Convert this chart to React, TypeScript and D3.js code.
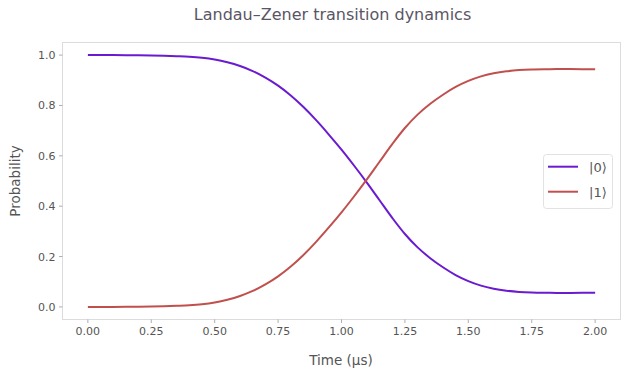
import React from "react";
import * as d3 from "d3";

const times = [
  0, 0.05, 0.1, 0.15, 0.2, 0.25, 0.3, 0.35, 0.4, 0.45, 0.5, 0.55, 0.6, 0.65, 0.7,
  0.75, 0.8, 0.85, 0.9, 0.95, 1.0, 1.05, 1.1, 1.15, 1.2, 1.25, 1.3, 1.35, 1.4,
  1.45, 1.5, 1.55, 1.6, 1.65, 1.7, 1.75, 1.8, 1.85, 1.9, 1.95, 2.0,
];
const p1 = [
  0, 0, 0, 0.0005, 0.001, 0.002, 0.003, 0.0045, 0.0065, 0.0105, 0.0175, 0.0285,
  0.0435, 0.0635, 0.0895, 0.1215, 0.1605, 0.2065, 0.2585, 0.3155, 0.3755,
  0.4395, 0.5065, 0.5765, 0.6465, 0.7105, 0.7635, 0.8065, 0.8425, 0.8735,
  0.8975, 0.9155, 0.9275, 0.9355, 0.9405, 0.943, 0.944, 0.9443, 0.9443, 0.944,
  0.9435,
];
const p0 = [
  1, 1, 1, 0.9995, 0.999, 0.998, 0.997, 0.9955, 0.9935, 0.9895, 0.9825, 0.9715,
  0.9565, 0.9365, 0.9105, 0.8785, 0.8395, 0.7935, 0.7415, 0.6845, 0.6245,
  0.5605, 0.4935, 0.4235, 0.3535, 0.2895, 0.2365, 0.1935, 0.1575, 0.1265,
  0.1025, 0.0845, 0.0725, 0.0645, 0.0595, 0.057, 0.056, 0.0557, 0.0557, 0.056,
  0.0565,
];
const seriesNames = ["|0⟩", "|1⟩"];
const seriesColors = ["#6a1bd0", "#c0504d"];
const xTicks = [0, 0.25, 0.5, 0.75, 1.0, 1.25, 1.5, 1.75, 2.0];
const yTicks = [0, 0.2, 0.4, 0.6, 0.8, 1.0];
const title = "Landau–Zener transition dynamics";
const xLabel = "Time (μs)";
const yLabel = "Probability";

export default function App() {
  const W = 627;
  const H = 376;
  const left = 62.5;
  const right = 620.5;
  const top = 42.5;
  const bottom = 319.5;
  const x = d3.scaleLinear().domain([-0.1, 2.1]).range([left, right]);
  const y = d3.scaleLinear().domain([-0.05, 1.05]).range([bottom, top]);
  const font = "DejaVu Sans, sans-serif";
  const textColor = "#555";
  const gridColor = "#dcdcdc";
  const line = d3
    .line<number>()
    .x((_, i) => x(times[i]))
    .y((d) => y(d))
    .curve(d3.curveCatmullRom.alpha(0.5));
  const series = [p0, p1];

  const lx = 543.5;
  const ly = 154.5;
  return (
    <svg width={W} height={H} style={{ position: "absolute", left: 0, top: 0 }} fontFamily={font}>
      <rect x={0} y={0} width={W} height={H} fill="#fff" />
      <text x={332.5} y={20} textAnchor="middle" fontSize={16} fill="#5a5565">
        {title}
      </text>
      <rect x={left} y={top} width={right - left} height={bottom - top} fill="none" stroke={gridColor} strokeWidth={1} />
      {xTicks.map((t) => (
        <g key={"x" + t}>
          <line x1={x(t)} x2={x(t)} y1={bottom} y2={bottom + 3.5} stroke="#999" strokeWidth={0.8} />
          <text x={x(t)} y={bottom + 15} textAnchor="middle" fontSize={11} fill={textColor}>
            {t.toFixed(2)}
          </text>
        </g>
      ))}
      {yTicks.map((t) => (
        <g key={"y" + t}>
          <line x1={left - 3.5} x2={left} y1={y(t)} y2={y(t)} stroke="#999" strokeWidth={0.8} />
          <text x={left - 7} y={y(t) + 4} textAnchor="end" fontSize={11} fill={textColor}>
            {t.toFixed(1)}
          </text>
        </g>
      ))}
      <text x={341} y={365} textAnchor="middle" fontSize={13.5} fill={textColor}>
        {xLabel}
      </text>
      <text
        transform={`translate(19.5, ${(top + bottom) / 2}) rotate(-90)`}
        textAnchor="middle"
        fontSize={13.5}
        fill={textColor}
      >
        {yLabel}
      </text>
      {series.map((s, i) => (
        <path key={i} d={line(s) || ""} fill="none" stroke={seriesColors[i]} strokeWidth={2} />
      ))}
      <rect x={lx} y={ly} width={69} height={54} rx={3} fill="#fff" fillOpacity={0.8} stroke="#e2e2e2" />
      {seriesNames.map((n, i) => (
        <g key={n}>
          <line x1={548} x2={578} y1={166.7 + i * 25} y2={166.7 + i * 25} stroke={seriesColors[i]} strokeWidth={2} />
          <text x={589} y={171.5 + i * 25} fontSize={13} fill={textColor}>
            {n}
          </text>
        </g>
      ))}
    </svg>
  );
}
